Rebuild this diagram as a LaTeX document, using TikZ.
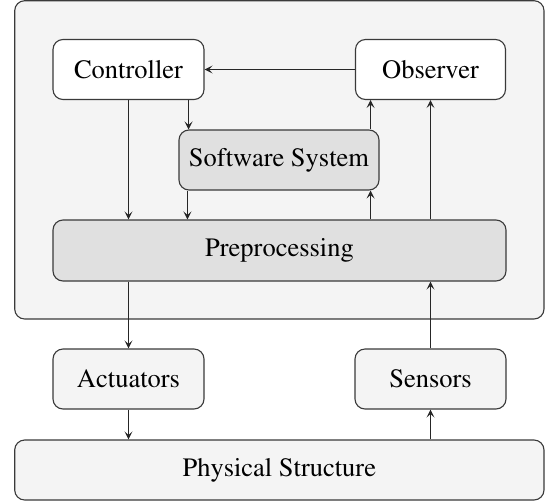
\documentclass[tikz,border=0pt]{standalone}
\usepackage[T1]{fontenc}
\usepackage{mathptmx}
\usetikzlibrary{arrows.meta}
\definecolor{bgg}{HTML}{F4F4F4}
\definecolor{midg}{HTML}{E0E0E0}
\definecolor{edgec}{HTML}{3A3A3A}
\begin{document}
\begin{tikzpicture}[x=1pt,y=-1pt,
  box/.style={draw=edgec, line width=1.1pt, rounded corners=10pt, inner sep=0pt, font=\fontsize{26.5}{30}\selectfont},
  arr/.style={-{Stealth[length=8pt,width=8pt,inset=3.5pt]}, line width=1.1pt, draw=black!85}]
\useasboundingbox (0,0) rectangle (551,501);
\node[box, fill=bgg, minimum width=529.3pt, minimum height=318.3pt] (sys) at (279.35,159.85) {};
\node[box, fill=white, minimum width=151pt, minimum height=60pt] (ctrl) at (128.5,69.5) {Controller};
\node[box, fill=white, minimum width=150pt, minimum height=60pt] (obs) at (430.5,69.5) {Observer};
\node[box, fill=midg, minimum width=200pt, minimum height=60pt] (sw) at (279,160) {Software System};
\node[box, fill=midg, minimum width=453pt, minimum height=61pt] (pre) at (279.5,250.5) {Preprocessing};
\node[box, fill=bgg, minimum width=151pt, minimum height=60pt] (act) at (128.5,379) {Actuators};
\node[box, fill=bgg, minimum width=151pt, minimum height=60pt] (sen) at (430.5,379) {Sensors};
\node[box, fill=bgg, minimum width=529.3pt, minimum height=60pt] (phy) at (279.35,470) {Physical Structure};
\coordinate (c1) at ([xshift=-16pt]ctrl.south east);
\coordinate (s1) at ([xshift=9pt]sw.south west);
\coordinate (s2) at ([xshift=-9pt]sw.north east);
\draw[arr] (c1) -- (c1 |- sw.north);
\draw[arr] (s1) -- (s1 |- pre.north);
\draw[arr] (ctrl.south) -- (ctrl.south |- pre.north);
\draw[arr] (s2 |- pre.north) -- (s2 |- sw.south);
\draw[arr] (s2) -- (s2 |- obs.south);
\draw[arr] (obs.south |- pre.north) -- (obs.south);
\draw[arr] (obs.west) -- (ctrl.east);
\draw[arr] (ctrl.south |- pre.south) -- (act.north);
\draw[arr] (act.south) -- (act.south |- phy.north);
\draw[arr] (sen.south |- phy.north) -- (sen.south);
\draw[arr] (sen.north) -- (sen.north |- pre.south);
\end{tikzpicture}
\end{document}
